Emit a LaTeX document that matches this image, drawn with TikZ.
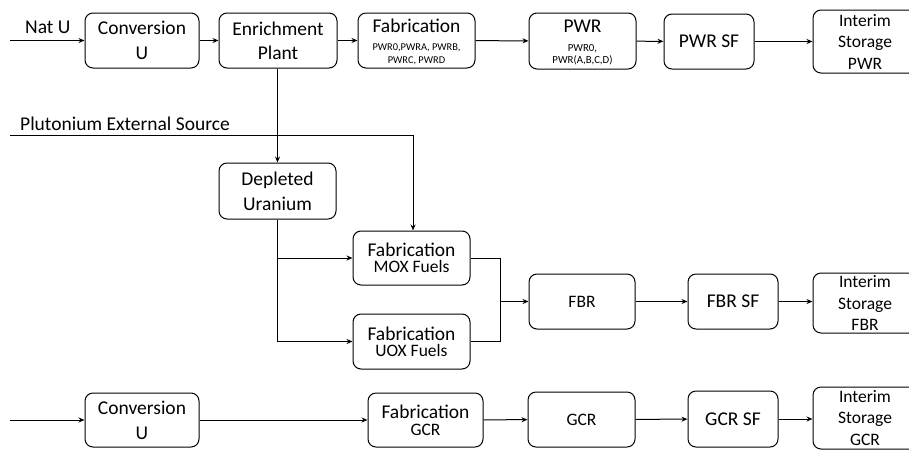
\documentclass[tikz,border=0pt]{standalone}
\usepackage{fontspec}
\setmainfont{Carlito}
\usetikzlibrary{arrows.meta}
\begin{document}
\begin{tikzpicture}[x=1pt,y=-1pt,
  box/.style={draw, line width=1pt, rounded corners=8pt, inner sep=0pt, align=center, anchor=center},
  big/.style={font=\fontsize{19.5}{23}\selectfont},
  arr/.style={line width=1pt, -{Stealth[length=6pt,width=5pt]}},
  ln/.style={line width=1pt}]
\useasboundingbox (0,0) rectangle (909,450);
\begin{scope}
\clip (0,0) rectangle (909,450);
% top row
\node[box,big,minimum width=114pt,minimum height=55pt] (conv1) at (142,40.5) {Conversion\\[2pt]U};
\node[box,big,minimum width=118pt,minimum height=55pt] (enr) at (278,40.5) {Enrichment\\[1pt]Plant};
\node[box,minimum width=117pt,minimum height=55pt] (fab1) at (416.5,40.5) {\fontsize{19.5}{10}\selectfont\rule{0pt}{17pt}Fabrication\\[6pt]\fontsize{10.4}{10}\selectfont PWR0,PWRA, PWRB,\\[1pt]\fontsize{10.4}{10}\selectfont PWRC, PWRD};
\node[box,minimum width=107pt,minimum height=56pt] (pwr) at (582.5,41) {\fontsize{19.5}{11}\selectfont\rule{0pt}{16pt}PWR\\[7pt]\fontsize{10.8}{11}\selectfont PWR0,\\[0pt]\fontsize{10.8}{11}\selectfont PWR(A,B,C,D)};
\node[box,big,minimum width=90pt,minimum height=55pt] (pwrsf) at (709,41.5) {PWR SF};
\node[box,font=\fontsize{17.5}{21.5}\selectfont,minimum width=104pt,minimum height=63pt] (isp) at (865,41.5) {Interim\\Storage\\PWR};
% middle
\node[box,big,minimum width=117pt,minimum height=56pt] (du) at (277.5,191) {Depleted\\[2pt]Uranium};
\node[box,minimum width=117pt,minimum height=54pt] (mox) at (411.5,258) {\fontsize{19.5}{18}\selectfont Fabrication\\[3pt]\fontsize{17.5}{18}\selectfont MOX Fuels};
\node[box,minimum width=117pt,minimum height=55pt] (uox) at (411.5,341.5) {\fontsize{19.5}{18}\selectfont Fabrication\\[3pt]\fontsize{17.5}{18}\selectfont UOX Fuels};
\node[box,font=\fontsize{17.5}{20}\selectfont,minimum width=106pt,minimum height=55pt] (fbr) at (582,301.5) {FBR};
\node[box,big,minimum width=90pt,minimum height=55pt] (fbrsf) at (733,301.5) {FBR SF};
\node[box,font=\fontsize{17.5}{21.5}\selectfont,minimum width=104pt,minimum height=60pt] (isf) at (865,303) {Interim\\Storage\\FBR};
% bottom row
\node[box,big,minimum width=114pt,minimum height=54pt] (conv2) at (142,420) {Conversion\\[2pt]U};
\node[box,minimum width=115pt,minimum height=54pt] (fabg) at (425.5,420) {\fontsize{19.5}{18}\selectfont Fabrication\\[5pt]\fontsize{17.5}{18}\selectfont GCR};
\node[box,font=\fontsize{17.5}{20}\selectfont,minimum width=107pt,minimum height=55pt] (gcr) at (581.5,419.5) {GCR};
\node[box,big,minimum width=90pt,minimum height=56pt] (gcrsf) at (733,419) {GCR SF};
\node[box,font=\fontsize{17.5}{21.5}\selectfont,minimum width=104pt,minimum height=62pt] (isg) at (865,418) {Interim\\Storage\\GCR};
\end{scope}
% labels
\node[big,anchor=base west,inner sep=0pt] (natu) at (25,33) {Nat U};
\node[big,anchor=base west,inner sep=0pt] (plu) at (20,130) {Plutonium External Source};
% coordinates
\coordinate (natstart) at (10,40.5);
\coordinate (plustart) at (10,135);
\coordinate (plucorner) at (413,135);
\coordinate (gcrstart) at (10,420);
\coordinate (dubranch) at (277.5,258);
\coordinate (dubottom) at (277.5,341.5);
\coordinate (mergetop) at (500,258);
\coordinate (mergebot) at (500,341.5);
\coordinate (mergemid) at (500,301.5);
% connectors
\draw[arr] (natstart) -- (conv1);
\draw[arr] (conv1) -- (enr);
\draw[arr] (enr) -- (fab1);
\draw[arr] (fab1) -- (pwr);
\draw[arr] (pwr) -- (pwrsf);
\draw[arr] (pwrsf) -- (isp.west |- pwrsf);
\draw[arr] (enr.south -| du.north) -- (du.north);
\draw[arr] (plustart) -- (plucorner) -- (plucorner |- mox.north);
\draw[ln] (du.south) -- (dubottom);
\draw[arr] (dubranch) -- (mox.west);
\draw[arr] (dubottom) -- (uox.west);
\draw[ln] (mox.east) -- (mergetop) -- (mergebot) -- (uox.east);
\draw[arr] (mergemid) -- (fbr.west);
\draw[arr] (fbr) -- (fbrsf);
\draw[arr] (fbrsf) -- (isf.west |- fbrsf);
\draw[arr] (gcrstart) -- (conv2);
\draw[arr] (conv2) -- (fabg);
\draw[arr] (fabg) -- (gcr);
\draw[arr] (gcr) -- (gcrsf);
\draw[arr] (gcrsf) -- (isg.west |- gcrsf);
\end{tikzpicture}
\end{document}
